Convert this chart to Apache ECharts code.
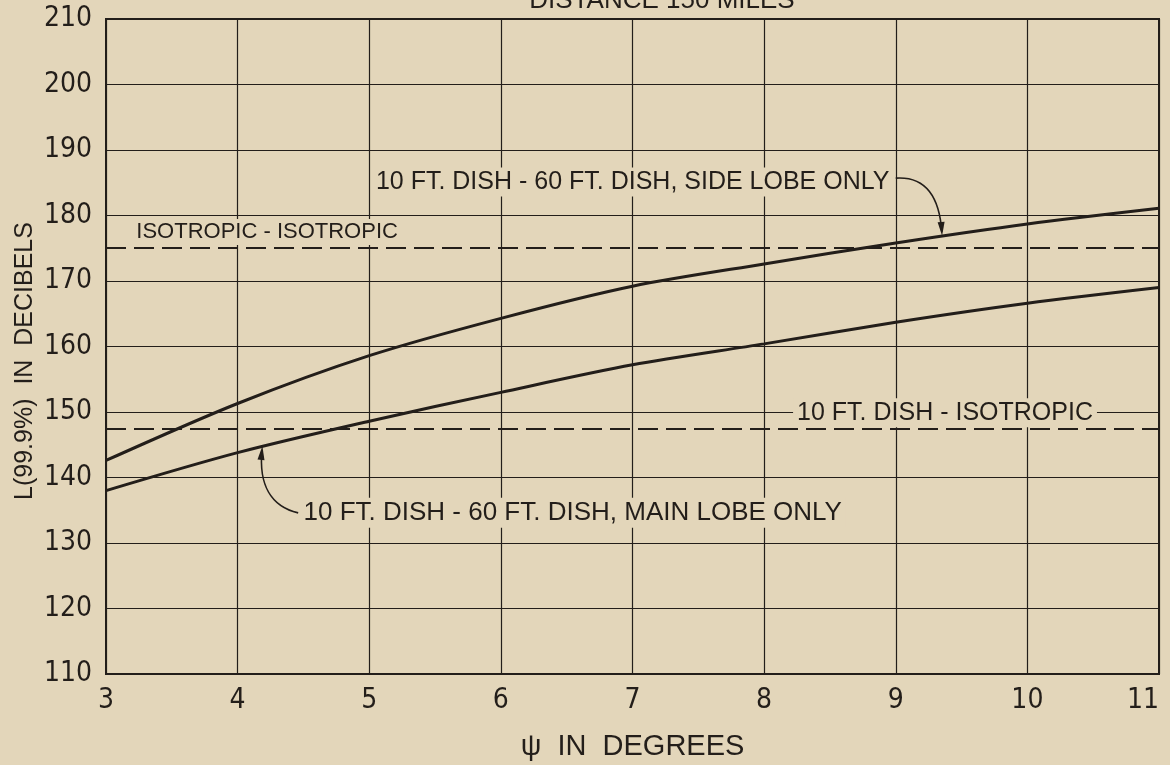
<!DOCTYPE html>
<html lang="en">
<head>
  <meta charset="UTF-8" />
  <title>L(99.9%) vs psi</title>
  <script src="https://cdn.jsdelivr.net/npm/echarts@6/dist/echarts.min.js"></script>
  <style>
    body {
      margin: 0;
      background: #e3d6ba;
      overflow: hidden;
    }
    #main {
      width: 1170px;
      height: 765px;
    }
  </style>
</head>
<body>
  <div id="main"></div>
  <script>
    // values
    const psi = [3, 4, 5, 6, 7, 8, 9, 10, 11];
    const sideLobe = [142.6, 151.3, 158.6, 164.3, 169.2, 172.6, 175.8, 178.7, 181.1];
    const mainLobe = [138.0, 143.8, 148.6, 153.0, 157.2, 160.4, 163.7, 166.6, 169.0];
    const isoIso = 175.1;
    const dishIso = 147.4;

    const ink = '#231e1a';
    const paper = '#e3d6ba';
    const narrow = "'Liberation Sans Narrow', 'DejaVu Sans Condensed', sans-serif";
    const plain = "'Liberation Sans', 'DejaVu Sans', sans-serif";

    // annotation anchors in data units: [psi, dB]
    const labels = [
      { text: 'ISOTROPIC - ISOTROPIC', at: [3.2, 177.5], size: 22 },
      { text: '10 FT. DISH - 60 FT. DISH, SIDE LOBE ONLY', at: [5.02, 185.1], size: 25 },
      { text: '10 FT. DISH - ISOTROPIC', at: [8.22, 149.9], size: 25 },
      { text: '10 FT. DISH - 60 FT. DISH, MAIN LOBE ONLY', at: [4.47, 134.6], size: 26 }
    ];
    // arrows: start, control 1, control 2, tip
    const arrows = [
      [[9.0, 185.7], [9.22, 186.0], [9.33, 183.2], [9.35, 177.5]],
      [[4.46, 134.6], [4.25, 135.6], [4.16, 139.0], [4.185, 144.2]]
    ];

    const chart = echarts.init(document.getElementById('main'));

    const option = {
      backgroundColor: paper,
      animation: false,
      title: {
        text: 'DISTANCE 150 MILES',
        left: 657,
        textAlign: 'center',
        top: -17,
        textStyle: { fontFamily: plain, fontSize: 26, fontWeight: 'normal', color: ink }
      },
      grid: {
        left: 106,
        right: 11,
        top: 19,
        bottom: 91,
        outerBoundsMode: 'none',
        show: true,
        borderColor: ink,
        borderWidth: 2,
        backgroundColor: 'transparent'
      },
      xAxis: {
        type: 'value',
        min: 3,
        max: 11,
        interval: 1,
        name: 'ψ  IN  DEGREES',
        nameLocation: 'middle',
        nameGap: 58,
        nameTextStyle: { fontFamily: plain, fontSize: 29, color: ink },
        axisLine: { show: false },
        axisTick: { show: false },
        axisLabel: { margin: 13, fontFamily: narrow, fontSize: 28, color: ink, alignMaxLabel: 'right' },
        splitLine: { lineStyle: { color: ink, width: 1.2 } }
      },
      yAxis: {
        type: 'value',
        min: 110,
        max: 210,
        interval: 10,
        axisLine: { show: false },
        axisTick: { show: false },
        axisLabel: { margin: 14, fontFamily: narrow, fontSize: 28, color: ink },
        splitLine: { lineStyle: { color: ink, width: 1.2 } }
      },
      series: [
        {
          name: 'side lobe',
          type: 'line',
          smooth: 0.3,
          symbol: 'none',
          data: psi.map((x, i) => [x, sideLobe[i]]),
          lineStyle: { color: ink, width: 3 },
          markLine: {
            silent: true,
            symbol: 'none',
            label: { show: false },
            lineStyle: { color: ink, width: 2, type: [20, 8] },
            data: [{ yAxis: isoIso }, { yAxis: dishIso }]
          },
          z: 3
        },
        {
          name: 'main lobe',
          type: 'line',
          smooth: 0.3,
          symbol: 'none',
          data: psi.map((x, i) => [x, mainLobe[i]]),
          lineStyle: { color: ink, width: 3 },
          z: 3
        }
      ]
    };

    chart.setOption(option);

    // annotations placed through the chart's own scales
    const px = p => chart.convertToPixel({ gridIndex: 0 }, p);
    const graphics = [];

    // y axis title, set a little below the middle as in the original
    graphics.push({
      type: 'text',
      x: 25,
      y: 361,
      rotation: Math.PI / 2,
      style: {
        text: 'L(99.9%)  IN  DECIBELS',
        fontFamily: plain,
        fontSize: 25,
        fill: ink,
        align: 'center',
        verticalAlign: 'middle'
      }
    });

    labels.forEach(l => {
      const p = px(l.at);
      graphics.push({
        type: 'text',
        x: p[0],
        y: p[1],
        z: 10,
        style: {
          text: l.text,
          fontFamily: plain,
          fontSize: l.size,
          fill: ink,
          verticalAlign: 'middle',
          backgroundColor: paper,
          padding: [2, 4]
        }
      });
    });
    arrows.forEach(a => {
      const [s, c1, c2, t] = a.map(px);
      graphics.push({
        type: 'bezierCurve',
        z: 10,
        shape: { x1: s[0], y1: s[1], cpx1: c1[0], cpy1: c1[1], cpx2: c2[0], cpy2: c2[1], x2: t[0], y2: t[1] },
        style: { stroke: ink, lineWidth: 1.6, fill: null }
      });
      const dx = t[0] - c2[0], dy = t[1] - c2[1];
      const len = Math.hypot(dx, dy) || 1;
      const ux = dx / len, uy = dy / len;
      const tip = [t[0] + ux * 4, t[1] + uy * 4];
      const base = [tip[0] - ux * 14, tip[1] - uy * 14];
      graphics.push({
        type: 'polygon',
        z: 10,
        shape: {
          points: [tip, [base[0] - uy * 3.5, base[1] + ux * 3.5], [base[0] + uy * 3.5, base[1] - ux * 3.5]]
        },
        style: { fill: ink }
      });
    });
    chart.setOption({ graphic: graphics });

    window.addEventListener('resize', () => chart.resize());
  </script>
</body>
</html>
